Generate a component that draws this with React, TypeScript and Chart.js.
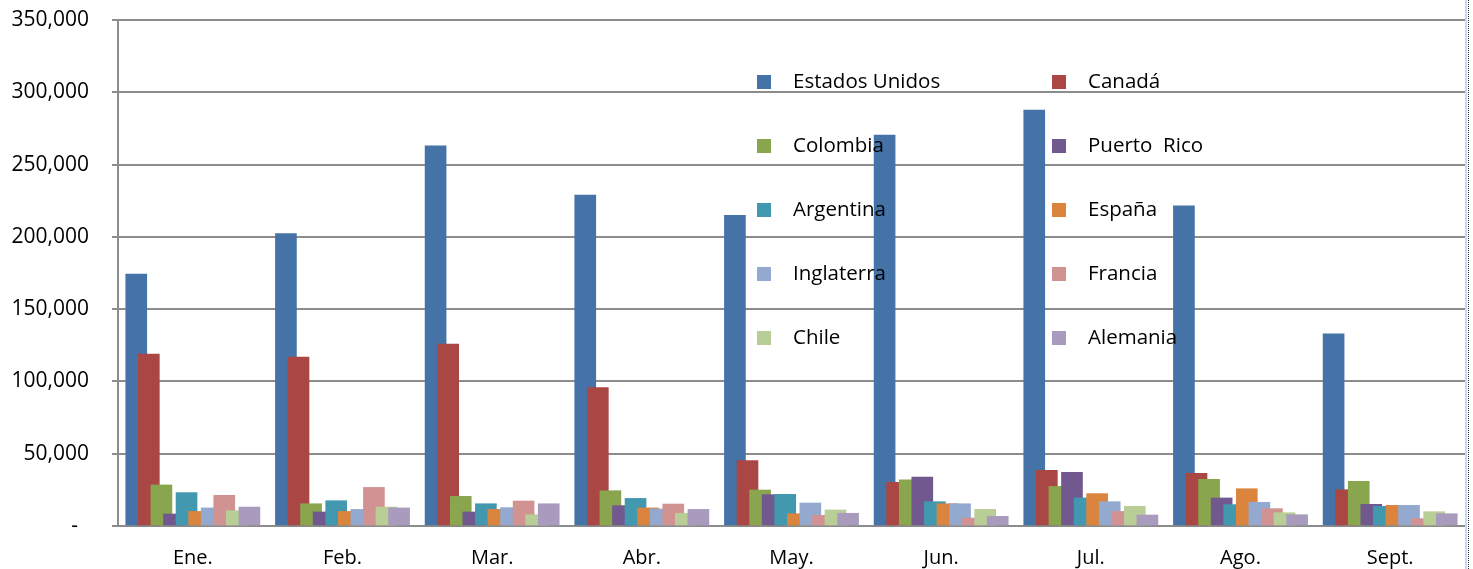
import React, { useEffect, useRef } from 'react';
import { Chart, registerables } from 'chart.js';

Chart.register(...registerables);

const categories = ['Ene.', 'Feb.', 'Mar.', 'Abr.', 'May.', 'Jun.', 'Jul.', 'Ago.', 'Sept.'];

const seriesNames = [
  'Estados Unidos', 'Canadá', 'Colombia', 'Puerto  Rico', 'Argentina',
  'España', 'Inglaterra', 'Francia', 'Chile', 'Alemania',
];

const estadosUnidos = [174300, 202200, 263000, 228900, 214900, 270400, 287700, 221500, 133000];
const canada = [118900, 116800, 125800, 95700, 45200, 30200, 38500, 36400, 25100];
const colombia = [28400, 15400, 20500, 24400, 24900, 32000, 27400, 32300, 30900];
const puertoRico = [8300, 9700, 9700, 14100, 21700, 33900, 37100, 19400, 15000];
const argentina = [23100, 17500, 15400, 19100, 21900, 16800, 19400, 14800, 13600];
const espana = [10100, 10100, 11500, 12500, 8500, 15400, 22400, 25800, 14300];
const inglaterra = [12500, 11500, 12700, 11800, 15900, 15400, 16800, 16400, 14300];
const francia = [21200, 26700, 17300, 15200, 7400, 5500, 10100, 12000, 5100];
const chile = [10600, 13100, 7800, 8800, 11100, 11500, 13600, 9200, 9900];
const alemania = [13100, 12500, 15400, 11500, 8800, 6700, 7600, 7800, 8500];

const seriesValues = [
  estadosUnidos, canada, colombia, puertoRico, argentina,
  espana, inglaterra, francia, chile, alemania,
];

const colors = [
  '#4572A7', '#AA4643', '#89A54E', '#71588F', '#4198AF',
  '#DB843D', '#93A9CF', '#D19392', '#B9CD96', '#A99BBD',
];

const yTicks = [0, 50000, 100000, 150000, 200000, 250000, 300000, 350000];

const W = 1473;
const H = 569;
const FONT = '"Open Sans", "DejaVu Sans", sans-serif';
const GRID = '#8c8c8c';
const STEP = 0.084; // overlap spacing between series, in category units

const insideLegend = {
  id: 'insideLegend',
  afterDatasetsDraw(chart: any) {
    const { ctx, chartArea } = chart;
    ctx.save();
    ctx.font = `20.5px ${FONT}`;
    ctx.textBaseline = 'middle';
    ctx.textAlign = 'left';
    chart.data.datasets.forEach((ds: any, j: number) => {
      const col = j % 2;
      const row = Math.floor(j / 2);
      const sx = chartArea.left + 639 + col * 295;
      const cy = chartArea.top + 62 + row * 64;
      ctx.fillStyle = ds.backgroundColor;
      ctx.fillRect(sx, cy - 7, 14, 14);
      ctx.fillStyle = '#000';
      ctx.fillText(ds.label, sx + 36, cy);
    });
    ctx.restore();
  },
};

export default function App() {
  const ref = useRef<HTMLCanvasElement>(null);

  useEffect(() => {
    if (!ref.current) return;
    const n = seriesNames.length;
    const datasets = seriesNames.map((name, j) => ({
      label: name,
      data: seriesValues[j].map((v, i) => ({ x: i + (j - (n - 1) / 2) * STEP, y: v })),
      backgroundColor: colors[j],
      borderWidth: 0,
      barThickness: 21,
      grouped: false,
      order: n - j,
    }));

    const chart = new Chart(ref.current, {
      type: 'bar',
      data: { datasets },
      plugins: [insideLegend],
      options: {
        animation: false,
        responsive: false,
        devicePixelRatio: 1,
        layout: { padding: { top: 20, right: 8, bottom: 0, left: 0 } },
        plugins: {
          legend: { display: false },
          tooltip: { enabled: false },
        },
        scales: {
          x: {
            type: 'linear',
            min: -0.5,
            max: 8.5,
            offset: false,
            afterBuildTicks: (scale: any) => {
              scale.ticks = categories.map((_, i) => ({ value: i }));
            },
            afterFit: (scale: any) => {
              scale.height = 43;
            },
            ticks: {
              callback: (v: any) => categories[Math.round(Number(v))] ?? '',
              autoSkip: false,
              maxRotation: 0,
              padding: 20,
              color: '#000',
              font: { family: FONT, size: 20 },
            },
            grid: { display: false, drawTicks: false },
            border: { display: true, color: GRID, width: 2 },
          },
          y: {
            min: 0,
            max: 350000,
            afterBuildTicks: (scale: any) => {
              scale.ticks = yTicks.map((v) => ({ value: v }));
            },
            afterFit: (scale: any) => {
              scale.width = 118;
            },
            ticks: {
              callback: (v: any) => (Number(v) === 0 ? '-  ' : Number(v).toLocaleString('en-US')),
              padding: 0,
              color: '#000',
              font: { family: FONT, size: 21 },
            },
            grid: {
              color: GRID,
              lineWidth: 2,
              drawTicks: true,
              tickLength: 29,
              tickColor: GRID,
              tickBorderDash: [0, 23, 6],
            },
            border: { display: true, color: GRID, width: 2 },
          },
        },
      },
    } as any);

    return () => chart.destroy();
  }, []);

  return (
    <div style={{ position: 'fixed', left: 0, top: 0, width: W, height: H, background: '#fff' }}>
      <canvas ref={ref} width={W} height={H} style={{ display: 'block', width: W, height: H }} />
      <div style={{ position: 'absolute', left: 1465, top: 0, width: 0, height: H, borderLeft: '2px solid #c6d9f1' }} />
      <div style={{ position: 'absolute', left: 1468, top: 0, width: 0, height: H, borderLeft: '1px dotted #333' }} />
    </div>
  );
}
